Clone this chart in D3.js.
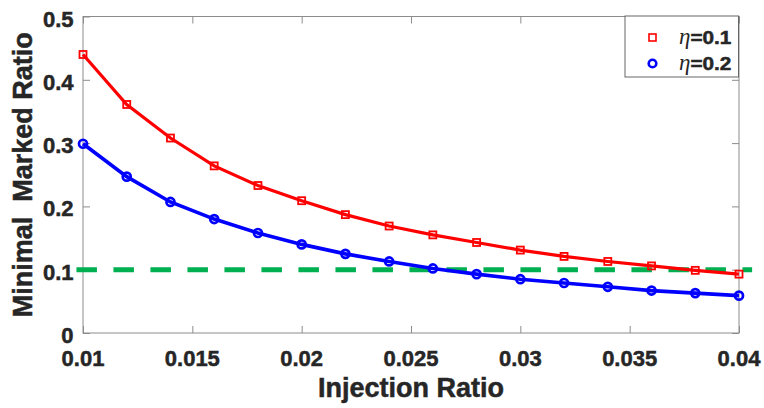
<!DOCTYPE html>
<html>
<head>
<meta charset="utf-8">
<script src="https://cdn.jsdelivr.net/npm/d3@7"></script>
<style>
  body { margin: 0; background: #fff; }
  text { font-family: "Liberation Sans", Arial, sans-serif; font-weight: bold; fill: #262626; }
  .heavy { stroke: #262626; stroke-width: 0.5px; }
</style>
</head>
<body>
<div id="chart"></div>
<script>
// injection ratio (x) for both series
var injection = [0.010, 0.012, 0.014, 0.016, 0.018, 0.020, 0.022, 0.024,
                 0.026, 0.028, 0.030, 0.032, 0.034, 0.036, 0.038, 0.040];
// minimal marked ratio, eta = 0.1
var eta01 = [0.440, 0.361, 0.308, 0.264, 0.233, 0.209, 0.187, 0.169,
             0.155, 0.143, 0.131, 0.121, 0.113, 0.106, 0.099, 0.093];
// minimal marked ratio, eta = 0.2
var eta02 = [0.299, 0.247, 0.207, 0.180, 0.158, 0.140, 0.125, 0.113,
             0.102, 0.093, 0.085, 0.079, 0.073, 0.067, 0.063, 0.059];
// threshold line (green dashed), drawn a bit past the axes like the original
var thresholdX = [0.0097, 0.0406];
var thresholdY = 0.1;

var xTicks = [0.01, 0.015, 0.02, 0.025, 0.03, 0.035, 0.04];
var xTickLabels = ["0.01", "0.015", "0.02", "0.025", "0.03", "0.035", "0.04"];
var yTicks = [0, 0.1, 0.2, 0.3, 0.4, 0.5];
var yTickLabels = ["0", "0.1", "0.2", "0.3", "0.4", "0.5"];

var width = 764, height = 408,
    margin = {top: 16.5, right: 25, bottom: 75, left: 83},
    innerWidth = width - margin.left - margin.right,
    innerHeight = height - margin.top - margin.bottom;

var svg = d3.select("#chart").append("svg")
    .attr("width", width)
    .attr("height", height);

var g = svg.append("g")
    .attr("transform", "translate(" + margin.left + "," + margin.top + ")");

var xScale = d3.scaleLinear().domain([0.01, 0.04])
    .range([margin.left, margin.left + innerWidth]);
var yScale = d3.scaleLinear().domain([0, 0.5])
    .range([margin.top + innerHeight, margin.top]);

var axisColor = "#8c8c8c";

// box with inward ticks on all four sides (labels drawn separately below)
svg.append("rect")
    .attr("x", margin.left)
    .attr("y", margin.top)
    .attr("width", innerWidth)
    .attr("height", innerHeight)
    .attr("fill", "none")
    .attr("stroke", axisColor);

var axes = [
  svg.append("g").attr("transform", "translate(0," + (margin.top + innerHeight) + ")")
    .call(d3.axisBottom(xScale).tickValues(xTicks).tickFormat("").tickSize(-7)),
  svg.append("g").attr("transform", "translate(0," + margin.top + ")")
    .call(d3.axisTop(xScale).tickValues(xTicks).tickFormat("").tickSize(-7)),
  svg.append("g").attr("transform", "translate(" + margin.left + ",0)")
    .call(d3.axisLeft(yScale).tickValues(yTicks).tickFormat("").tickSize(-7)),
  svg.append("g").attr("transform", "translate(" + (margin.left + innerWidth) + ",0)")
    .call(d3.axisRight(yScale).tickValues(yTicks).tickFormat("").tickSize(-7))
];
axes.forEach(function(a) {
  a.select(".domain").remove();
  a.selectAll(".tick line").attr("stroke", axisColor);
  a.selectAll(".tick text").remove();
});

svg.selectAll(".xlab")
    .data(xTicks)
    .enter().append("text")
    .attr("class", "xlab heavy")
    .attr("x", function(d) { return xScale(d); })
    .attr("y", margin.top + innerHeight + 33)
    .attr("text-anchor", "middle")
    .attr("font-size", 22)
    .text(function(d, i) { return xTickLabels[i]; });

svg.selectAll(".ylab")
    .data(yTicks)
    .enter().append("text")
    .attr("class", "ylab heavy")
    .attr("x", margin.left - 9.5)
    .attr("y", function(d) { return yScale(d) + 10; })
    .attr("text-anchor", "end")
    .attr("font-size", 22)
    .text(function(d, i) { return yTickLabels[i]; });

// threshold line
svg.append("line")
    .attr("x1", xScale(thresholdX[0]))
    .attr("x2", xScale(thresholdX[1]))
    .attr("y1", yScale(thresholdY))
    .attr("y2", yScale(thresholdY))
    .attr("stroke", "#00b050")
    .attr("stroke-width", 5)
    .attr("stroke-dasharray", "20.5 16.5");

var line = d3.line()
    .x(function(d) { return xScale(d[0]); })
    .y(function(d) { return yScale(d[1]); });

var redData = d3.zip(injection, eta01);
var blueData = d3.zip(injection, eta02);

svg.append("path")
    .datum(redData)
    .attr("d", line)
    .attr("fill", "none")
    .attr("stroke", "#ff0000")
    .attr("stroke-width", 3.2);

svg.selectAll(".sq")
    .data(redData)
    .enter().append("rect")
    .attr("class", "sq")
    .attr("x", function(d) { return xScale(d[0]) - 3.5; })
    .attr("y", function(d) { return yScale(d[1]) - 3.5; })
    .attr("width", 7)
    .attr("height", 7)
    .attr("fill", "none")
    .attr("stroke", "#ff0000")
    .attr("stroke-width", 1.8);

svg.append("path")
    .datum(blueData)
    .attr("d", line)
    .attr("fill", "none")
    .attr("stroke", "#0000ff")
    .attr("stroke-width", 3.6);

svg.selectAll(".ci")
    .data(blueData)
    .enter().append("circle")
    .attr("class", "ci")
    .attr("cx", function(d) { return xScale(d[0]); })
    .attr("cy", function(d) { return yScale(d[1]); })
    .attr("r", 4)
    .attr("fill", "none")
    .attr("stroke", "#0000ff")
    .attr("stroke-width", 2.7);

// axis titles
svg.append("text")
    .attr("class", "heavy")
    .attr("x", margin.left + innerWidth / 2)
    .attr("y", 397)
    .attr("text-anchor", "middle")
    .attr("font-size", 27)
    .text("Injection Ratio");

svg.append("text")
    .attr("class", "heavy")
    .attr("transform", "translate(32," + (margin.top + innerHeight / 2) + ") rotate(-90)")
    .attr("text-anchor", "middle")
    .attr("font-size", 27)
    .style("white-space", "pre")
    .text("Minimal  Marked Ratio");

// legend
var legend = svg.append("g")
    .attr("transform", "translate(625," + (margin.top - 0.5) + ")");

legend.append("rect")
    .attr("width", 113.5)
    .attr("height", 61)
    .attr("fill", "#fff")
    .attr("stroke", "#666");

legend.append("rect")
    .attr("x", 24).attr("y", 18)
    .attr("width", 7).attr("height", 7)
    .attr("fill", "none")
    .attr("stroke", "#ff0000")
    .attr("stroke-width", 1.6);

legend.append("circle")
    .attr("cx", 27.5).attr("cy", 47.5)
    .attr("r", 3.8)
    .attr("fill", "none")
    .attr("stroke", "#0000ff")
    .attr("stroke-width", 2.6);

var labels = ["0.1", "0.2"];
labels.forEach(function(l, i) {
  var t = legend.append("text")
      .attr("x", 54)
      .attr("y", 27.5 + i * 26.5)
      .attr("font-size", 19);
  t.append("tspan")
      .style("font-family", "'Liberation Serif', 'Times New Roman', serif")
      .style("font-style", "italic")
      .style("font-weight", "normal")
      .attr("font-size", 23)
      .text("\u03b7");
  t.append("tspan")
      .attr("class", "heavy")
      .attr("textLength", 41)
      .attr("lengthAdjust", "spacingAndGlyphs")
      .text("=" + l);
});
</script>
</body>
</html>
